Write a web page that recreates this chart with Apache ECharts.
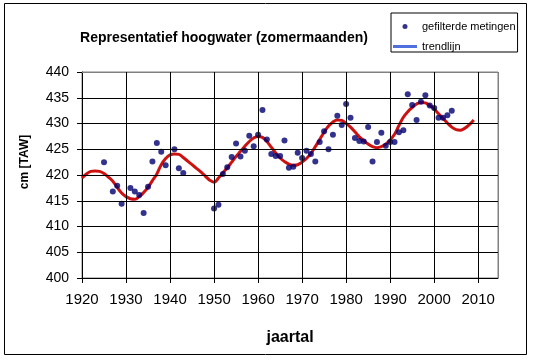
<!DOCTYPE html>
<html>
<head>
<meta charset="utf-8">
<script src="https://cdn.jsdelivr.net/npm/echarts@6/dist/echarts.min.js"></script>
<style>
html,body{margin:0;padding:0;background:#fff;}
#c{width:533px;height:360px;}
</style>
</head>
<body>
<div id="c"></div>
<script>
var titleText = 'Representatief hoogwater (zomermaanden)';
var xAxisTitle = 'jaartal';
var yAxisTitle = 'cm [TAW]';
var seriesNames = ['gefilterde metingen', 'trendlijn'];

var xTicks = [1920, 1930, 1940, 1950, 1960, 1970, 1980, 1990, 2000, 2010];
var yTicks = [400, 405, 410, 415, 420, 425, 430, 435, 440];

var measYears = [1925, 1927, 1928, 1929, 1931, 1932, 1933, 1934, 1935, 1936, 1937, 1938, 1939, 1941, 1942, 1943,
  1950, 1951, 1952, 1953, 1954, 1955, 1956, 1957, 1958, 1959, 1960, 1961, 1962, 1963, 1964, 1965, 1966, 1967, 1968, 1969,
  1970, 1971, 1972, 1973, 1974, 1975, 1976, 1977, 1978, 1979, 1980, 1981, 1982, 1983, 1984, 1985, 1986, 1987, 1988, 1989,
  1990, 1991, 1992, 1993, 1994, 1995, 1996, 1997, 1998, 1999, 2000, 2001, 2002, 2003, 2004];
var measValues = [422.5, 416.8, 417.9, 414.4, 417.5, 416.8, 416.1, 412.6, 417.7, 422.6, 426.2, 424.5, 421.9, 425.0, 421.3, 420.4,
  413.5, 414.2, 420.2, 421.5, 423.5, 426.1, 423.6, 424.7, 427.6, 425.6, 427.8, 432.6, 426.9, 424.1, 423.7, 423.7, 426.7, 421.4, 421.6, 424.3,
  423.3, 424.7, 424.1, 422.6, 426.4, 428.5, 425.0, 427.8, 431.5, 429.7, 433.8, 431.1, 427.2, 426.6, 426.5, 429.3, 422.6, 426.4, 428.2, 425.7,
  426.4, 426.4, 428.3, 428.7, 435.7, 433.6, 430.7, 434.2, 435.5, 433.5, 433.0, 431.1, 431.1, 431.6, 432.5];

var trendYears = [1920, 1921, 1922, 1923, 1924, 1925, 1926, 1927, 1928, 1929, 1930, 1931, 1932, 1933, 1934, 1935, 1936, 1937, 1938, 1939,
  1940, 1941, 1942, 1943, 1944, 1945, 1946, 1947, 1948, 1949, 1950, 1951, 1952, 1953, 1954, 1955, 1956, 1957, 1958, 1959,
  1960, 1961, 1962, 1963, 1964, 1965, 1966, 1967, 1968, 1969, 1970, 1971, 1972, 1973, 1974, 1975, 1976, 1977, 1978, 1979,
  1980, 1981, 1982, 1983, 1984, 1985, 1986, 1987, 1988, 1989, 1990, 1991, 1992, 1993, 1994, 1995, 1996, 1997, 1998, 1999,
  2000, 2001, 2002, 2003, 2004, 2005, 2006, 2007, 2008, 2009];
var trendValues = [419.4, 420.2, 420.7, 420.8, 420.7, 420.3, 419.6, 418.8, 417.6, 416.5, 415.8, 415.4, 415.3, 415.8, 416.6, 417.6, 418.9, 420.2, 422.0, 423.2,
  423.9, 424.1, 424.0, 423.4, 422.7, 422.0, 421.3, 420.6, 419.8, 419.0, 418.6, 419.4, 420.4, 421.4, 422.5, 423.6, 424.6, 425.6, 426.5, 427.2,
  427.5, 427.3, 426.5, 425.4, 424.3, 423.3, 422.6, 422.1, 421.9, 422.0, 422.5, 423.2, 424.2, 425.5, 426.9, 428.3, 429.5, 430.3, 430.7, 430.6,
  430.0, 429.3, 428.4, 427.4, 426.7, 426.0, 425.5, 425.3, 425.5, 426.0, 426.8, 427.9, 429.6, 431.2, 432.3, 433.1, 433.8, 434.1, 434.0, 433.5,
  432.8, 431.9, 431.0, 430.1, 429.3, 428.8, 428.7, 429.1, 429.8, 430.7];

var X_MIN = 1920, X_MAX = 2014.5, Y_MIN = 400, Y_MAX = 440;
var FONT = 'Liberation Sans, Arial, sans-serif';
var chart = echarts.init(document.getElementById('c'));

var measData = measYears.map(function (y, i) { return [y, measValues[i]]; });
var trendData = trendYears.map(function (y, i) { return [y, trendValues[i]]; });

// grid lines through the axes' own scales (black inner lines, grey plot border on top/right)
var gridLineData = [];
yTicks.forEach(function (v) {
  if (v === Y_MIN) return;
  gridLineData.push({yAxis: v, lineStyle: {color: v === Y_MAX ? '#808080' : '#000000', width: 1, type: 'solid'}});
});
xTicks.forEach(function (v) {
  if (v === X_MIN) return;
  gridLineData.push({xAxis: v, lineStyle: {color: '#000000', width: 1, type: 'solid'}});
});
gridLineData.push({xAxis: X_MAX, lineStyle: {color: '#808080', width: 1, type: 'solid'}});

chart.setOption({
  animation: false,
  title: {
    text: titleText,
    left: 224, top: 31, textAlign: 'center', padding: 0,
    textStyle: {fontFamily: FONT, fontSize: 14, fontWeight: 'bold', color: '#000'}
  },
  legend: {
    orient: 'vertical',
    left: 391, top: 13,
    padding: [8, 2, 0, 2],
    itemGap: 9,
    itemWidth: 24, itemHeight: 5,
    itemTextGap: 2,
    symbolKeepAspect: true,
    borderColor: '#000', borderWidth: 1,
    textStyle: {fontFamily: FONT, fontSize: 11, color: '#000'},
    data: [
      {name: seriesNames[0], icon: 'circle'},
      {name: seriesNames[1], icon: 'path://M0,0 L24,0 L24,3 L0,3 Z'}
    ]
  },
  grid: {
    left: 82, top: 72, right: 35, bottom: 82,
    show: true, borderColor: '#808080', borderWidth: 1
  },
  xAxis: {
    type: 'value', min: X_MIN, max: X_MAX, interval: 10,
    name: xAxisTitle, nameLocation: 'middle', nameGap: 52,
    nameTextStyle: {fontFamily: FONT, fontSize: 16, fontWeight: 'bold', color: '#000'},
    axisLine: {show: true, lineStyle: {color: '#000', width: 1}},
    axisTick: {show: true, length: 5, lineStyle: {color: '#000'}, customValues: xTicks},
    axisLabel: {fontFamily: FONT, fontSize: 15, color: '#000', margin: 14, customValues: xTicks,
      formatter: function (v) { return String(Math.round(v)); }},
    splitLine: {show: true, lineStyle: {color: '#000', width: 1}}
  },
  yAxis: {
    type: 'value', min: Y_MIN, max: Y_MAX, interval: 5,
    axisLine: {show: true, lineStyle: {color: '#000', width: 1}},
    axisTick: {show: true, length: 5, lineStyle: {color: '#000'}},
    axisLabel: {fontFamily: FONT, fontSize: 14, color: '#000', margin: 13},
    splitLine: {show: true, showMaxLine: false, lineStyle: {color: '#000', width: 1}}
  },
  graphic: [
    {type: 'rect', shape: {x: 4.5, y: 3.5, width: 522, height: 351}, style: {fill: 'none', stroke: '#000'}, silent: true, z: 100},
    {type: 'text', x: 25, y: 162, rotation: Math.PI / 2,
     style: {text: yAxisTitle, fontFamily: FONT, fontSize: 12, fontWeight: 'bold', fill: '#000', align: 'center', verticalAlign: 'middle'}}
  ],
  series: [
    {
      name: seriesNames[0], type: 'scatter', data: measData,
      symbol: 'circle', symbolSize: 6,
      itemStyle: {color: '#000070'}, z: 3
    },
    {
      name: seriesNames[1], type: 'line', data: trendData,
      smooth: 0.4, symbol: 'none', showSymbol: false,
      lineStyle: {color: '#cc1111', width: 3}, z: 2
    },
    {
      name: 'grid', type: 'line', data: [], z: 1, silent: true,
      markLine: {
        silent: true, animation: false, symbol: ['none', 'none'],
        label: {show: false},
        emphasis: {disabled: true},
        data: gridLineData
      }
    }
  ]
});
</script>
</body>
</html>
